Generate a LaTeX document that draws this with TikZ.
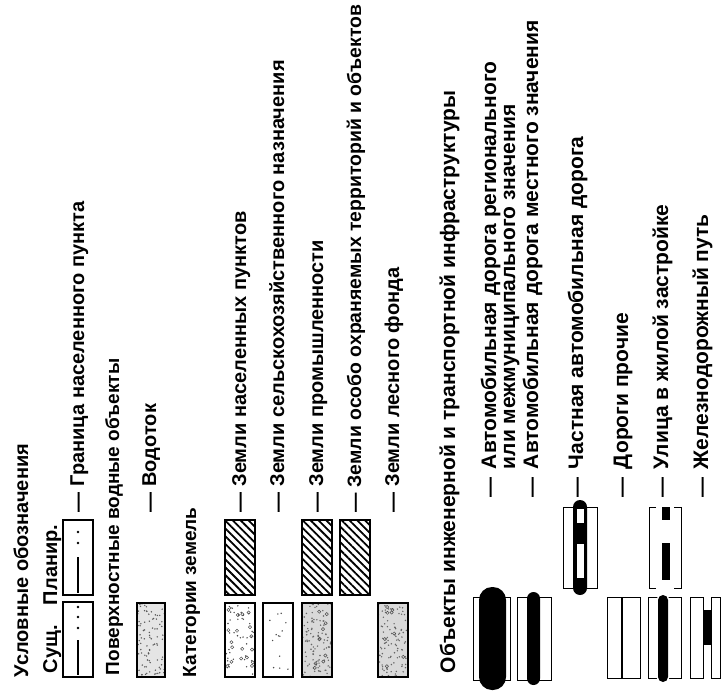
\documentclass[tikz,border=0pt]{standalone}
\usepackage{fontspec}
\setmainfont{Liberation Sans}
\usetikzlibrary{patterns,patterns.meta}
\newcommand\lgdfont{\fontsize{20}{20}\selectfont\bfseries}
\newcommand\lgdfontb{\fontsize{21}{21}\selectfont\bfseries}
\newcommand\speckle[6]{%
  \foreach \i in {1,...,#5}{\fill[#6] ({#1+rnd*(#3-#1)},{#2+rnd*(#4-#2)}) circle[radius=0.8pt];}}
\newcommand\rings[5]{%
  \foreach \i in {1,...,#5}{\draw[black!70,line width=0.5pt] ({#1+2+rnd*(#3-#1-4)},{#2+2+rnd*(#4-#2-4)}) circle[radius=1.6pt];}}
\begin{document}
\begin{tikzpicture}[x=1pt,y=-1pt,
  lbl/.style={rotate=90,anchor=base west,inner sep=0pt,outer sep=0pt,font=\lgdfont},
  lblb/.style={lbl,font=\lgdfontb},
  frame/.style={draw=black,line width=1.1pt},
  hatchbox/.style={frame,pattern={Lines[angle=-45,distance=5.5pt,line width=1.8pt]}},
  band/.style={fill=black,draw=none},
  bnd/.style={line width=2.6pt},
  dotmark/.style={fill=black},
]
\pgfmathsetseed{7}
\useasboundingbox (0,0) rectangle (727,692);
% ---------- header
\node[lbl] (t1) at (28,677) {Условные обозначения};
\node[lbl] (t2a) at (57,673) {Сущ.};
\node[lbl] (t2b) at (57,605) {Планир.};
% boundary symbols
\draw[frame] (63,602) rectangle (93,677);
\draw[bnd] (78,640) -- (78,675);
\foreach \yy in {628,617,607} \fill[dotmark] (78,\yy) circle[radius=1.4pt];
\draw[frame] (63,520) rectangle (93,595);
\draw[bnd] (78,557) -- (78,593);
\foreach \yy in {543,532} \fill[dotmark] (78,\yy) circle[radius=1.4pt];
\node[lbl] (t3) at (84,512) {— Граница населенного пункта};
% ---------- water
\node[lbl,font=\fontsize{19}{19}\selectfont\bfseries] (t4) at (119,675) {Поверхностные водные объекты};
\fill[black!10] (137,603) rectangle (165,677);
\speckle{137}{603}{165}{677}{90}{black!65}
\draw[frame] (137,603) rectangle (165,677);
\node[lbl] (t5) at (156,512) {— Водоток};
% ---------- land categories
\node[lbl,font=\fontsize{19}{19}\selectfont\bfseries] (t6) at (196,677) {Категории земель};
% row 1
\speckle{225}{603}{255}{677}{45}{black!70}
\rings{225}{603}{255}{677}{18}
\draw[frame] (225,603) rectangle (255,677);
\draw[hatchbox] (225,520) rectangle (255,595);
\node[lbl] (t7) at (246,512) {— Земли населенных пунктов};
% row 2
\speckle{263}{603}{293}{677}{14}{black!70}
\draw[frame] (263,603) rectangle (293,677);
\node[lbl] (t8) at (284,512) {— Земли сельскохозяйственного назначения};
% row 3
\fill[black!15] (302,603) rectangle (332,677);
\speckle{302}{603}{332}{677}{110}{black!60}
\rings{302}{603}{332}{677}{10}
\draw[frame] (302,603) rectangle (332,677);
\draw[hatchbox] (302,520) rectangle (332,595);
\node[lbl] (t9) at (323,512) {— Земли промышленности};
% row 4
\draw[hatchbox] (340,520) rectangle (370,595);
\node[lbl,font=\fontsize{19.4}{19.4}\selectfont\bfseries] (t10) at (361,512) {— Земли особо охраняемых территорий и объектов};
% row 5
\fill[black!15] (378,603) rectangle (408,677);
\speckle{378}{603}{408}{677}{100}{black!60}
\rings{378}{603}{408}{677}{8}
\draw[frame] (378,603) rectangle (408,677);
\node[lbl] (t11) at (399,512) {— Земли лесного фонда};
% ---------- infrastructure
\node[lblb] (t12) at (455,673) {Объекты инженерной и транспортной инфраструктуры};
% A regional road
\draw[frame,line width=1pt] (473,597) rectangle (510,680);
\fill[band,rounded corners=13pt] (479,587) rectangle (506,690);
\node[lbl] (d1) at (496,497) {—};
\node[lblb] (t13) at (496,469) {Автомобильная дорога регионального};
\node[lblb] (t14) at (515,469) {или межмуниципального значения};
% B local road
\draw[frame,line width=1pt] (517,597) rectangle (551,680);
\fill[band,rounded corners=6.5pt] (527,592) rectangle (540,685);
\node[lbl] (d2) at (538,497) {—};
\node[lblb] (t15) at (538,469) {Автомобильная дорога местного значения};
% C private road
\draw[frame,line width=1pt] (563,507) rectangle (597,588);
\fill[band,rounded corners=7pt] (573,500) rectangle (587,595);
\draw[fill=white,line width=0.5pt] (576,508) rectangle (584,523);
\draw[fill=white,line width=0.5pt] (576,543) rectangle (584,578);
\node[lbl] (d3) at (583,497) {—};
\node[lblb] (t16) at (583,469) {Частная автомобильная дорога};
% D other roads
\draw[frame,line width=1pt] (607,597) rectangle (622,678);
\draw[frame,line width=1pt] (622,597) rectangle (640,678);
\draw[line width=1.8pt] (622,597) -- (622,678);
\node[lbl] (d4) at (628,497) {—};
\node[lblb] (t17) at (628,469) {Дороги прочие};
% E street
\draw[frame,line width=1pt] (648,597) rectangle (681,678);
\fill[band,rounded corners=5pt,draw=white,line width=3pt] (658,595) rectangle (668,682);
\fill[band,rounded corners=5pt] (658,595) rectangle (668,682);
\draw[frame,line width=1pt] (656,507) -- (649,507) -- (649,588) -- (656,588);
\draw[frame,line width=1pt] (674,507) -- (681,507) -- (681,588) -- (674,588);
\fill[band] (662,507) rectangle (670,520);
\fill[band] (662,543) rectangle (670,580);
\node[lbl] (d5) at (668,497) {—};
\node[lblb] (t18) at (668,469) {Улица в жилой застройке};
% F railway
\draw[frame,line width=1pt] (690,597) rectangle (703,678);
\draw[frame,line width=1pt] (711,597) rectangle (720,678);
\fill[band] (703,610) rectangle (711,645);
\node[lbl] (d6) at (708,497) {—};
\node[lblb] (t19) at (708,469) {Железнодорожный путь};
\end{tikzpicture}
\end{document}
